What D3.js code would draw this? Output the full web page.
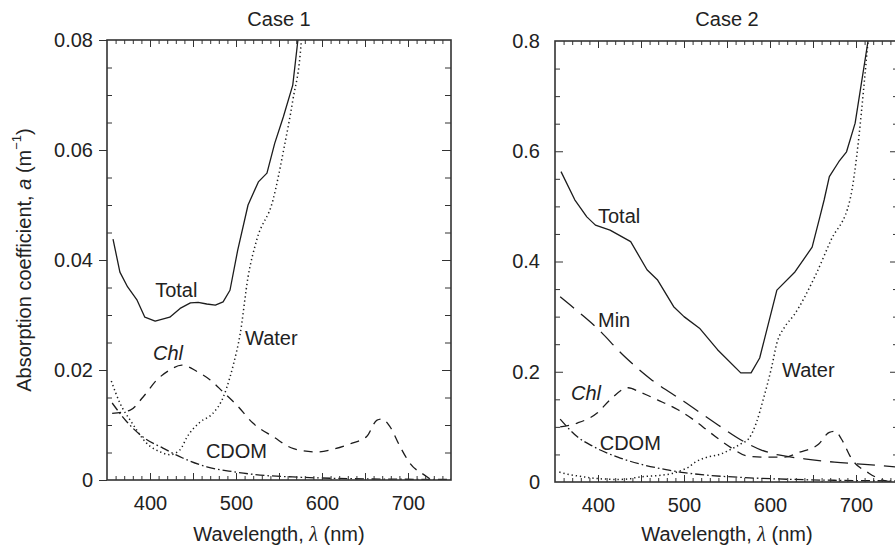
<!DOCTYPE html>
<html>
<head>
<meta charset="utf-8">
<script src="https://cdn.jsdelivr.net/npm/d3@7"></script>
<style>
  html, body { margin: 0; padding: 0; background: #fff; }
  svg text { font-family: "Liberation Sans", Arial, Helvetica, sans-serif; fill: #222; }
</style>
</head>
<body>
<svg id="chart" width="895" height="550"></svg>
<script>
// ---- Absorption spectra (wavelength in nm, absorption in m^-1) ----

// Pure water, shared by both cases
const waterWl  = [355, 365, 379, 396, 412, 423, 435, 443, 458, 473, 485, 493, 497, 505, 514, 524, 543, 556, 566, 576, 584, 592, 602, 608, 617, 628, 652, 671, 693, 714];
const waterAbs = [0.0180, 0.0140, 0.0104, 0.0067, 0.0051, 0.0046, 0.0055, 0.0078, 0.0105, 0.0121, 0.0150, 0.0187, 0.0210, 0.0267, 0.0369, 0.0436, 0.0509, 0.0605, 0.0690, 0.0800, 0.107, 0.149, 0.209, 0.252, 0.281, 0.303, 0.372, 0.439, 0.512, 0.800];

// Case 1 waters
const c1TotalWl = [357, 365, 374, 385, 394, 406, 423, 435, 447, 456, 466, 476, 485, 493, 502, 514, 526, 536, 545, 555, 566, 572];
const c1Total   = [0.0438, 0.0378, 0.0351, 0.0327, 0.0296, 0.0289, 0.0296, 0.0312, 0.0322, 0.0323, 0.0320, 0.0318, 0.0324, 0.0345, 0.0418, 0.0500, 0.0542, 0.0558, 0.0612, 0.0660, 0.0718, 0.0800];
const c1ChlWl   = [356, 377, 392, 408, 423, 437, 455, 470, 485, 501, 520, 543, 567, 594, 613, 635, 652, 664, 670, 679, 691, 702, 722, 727];
const c1Chl     = [0.0121, 0.0127, 0.0151, 0.0182, 0.0200, 0.0209, 0.0197, 0.0182, 0.0160, 0.0136, 0.0103, 0.0079, 0.0057, 0.0051, 0.0056, 0.0067, 0.0079, 0.0109, 0.0111, 0.0097, 0.0060, 0.0031, 0.0006, 0.0];
const c1CdomWl  = [356, 373, 392, 415, 438, 466, 497, 528, 575, 650, 750];
const c1Cdom    = [0.0140, 0.0106, 0.0078, 0.0058, 0.0040, 0.0024, 0.0015, 0.0009, 0.0005, 0.0002, 0.0001];

// Case 2 waters
const c2TotalWl = [357, 373, 387, 397, 414, 438, 457, 469, 488, 500, 518, 539, 566, 578, 588, 608, 629, 649, 658, 663, 669, 680, 689, 699, 714];
const c2Total   = [0.563, 0.512, 0.481, 0.466, 0.457, 0.436, 0.385, 0.367, 0.318, 0.300, 0.279, 0.240, 0.198, 0.198, 0.225, 0.348, 0.381, 0.426, 0.481, 0.512, 0.554, 0.581, 0.599, 0.651, 0.800];
const c2MinWl   = [356, 380, 399, 430, 461, 500, 540, 570, 590, 610, 640, 675, 710, 750];
const c2Min     = [0.336, 0.305, 0.279, 0.229, 0.187, 0.146, 0.103, 0.073, 0.058, 0.049, 0.042, 0.036, 0.032, 0.027];
const c2ChlWl   = [356, 376, 399, 414, 435, 449, 469, 493, 511, 531, 555, 574, 595, 617, 634, 656, 669, 676, 683, 695, 715, 730, 742];
const c2Chl     = [0.100, 0.107, 0.125, 0.149, 0.171, 0.163, 0.149, 0.131, 0.113, 0.089, 0.062, 0.047, 0.045, 0.045, 0.054, 0.068, 0.090, 0.092, 0.078, 0.042, 0.016, 0.004, 0.0];
const c2CdomWl  = [356, 376, 395, 423, 453, 481, 500, 530, 570, 620, 680, 750];
const c2Cdom    = [0.114, 0.082, 0.064, 0.045, 0.031, 0.022, 0.017, 0.012, 0.008, 0.005, 0.003, 0.002];

// Axis ticks
const xLabelTicks = [400, 500, 600, 700];
const c1YLabelTicks = [0, 0.02, 0.04, 0.06, 0.08];
const c2YLabelTicks = [0, 0.2, 0.4, 0.6, 0.8];

// Curve annotations, placed in data units
const c1Notes = [
  { text: "Total", wl: 406, a: 0.0333 },
  { text: "Chl", wl: 403.5, a: 0.0218, italic: true },
  { text: "Water", wl: 510.5, a: 0.0245 },
  { text: "CDOM", wl: 465, a: 0.0040 }
];
const c2Notes = [
  { text: "Total", wl: 400, a: 0.470 },
  { text: "Min", wl: 400, a: 0.281 },
  { text: "Water", wl: 614, a: 0.190 },
  { text: "Chl", wl: 368.6, a: 0.149, italic: true },
  { text: "CDOM", wl: 402, a: 0.058 }
];

const zip = (xs, ys) => xs.map((x, i) => [x, ys[i]]);

// Line styles
const STYLE = {
  total: { dash: null, curve: d3.curveLinear },
  water: { dash: "1.3,2.9", curve: d3.curveMonotoneX },
  chl:   { dash: "9,7", curve: d3.curveMonotoneX },
  min:   { dash: "18,9", curve: d3.curveMonotoneX },
  cdom:  { dash: "9,3,1.6,3", curve: d3.curveMonotoneX }
};

const panels = [
  {
    id: "c1", title: "Case 1", left: 107, right: 451, top: 40, bottom: 480,
    yMax: 0.08, yMinorStep: 0.005, yMajorStep: 0.02, majorOut: true, labelPad: 14,
    yFmt: v => v === 0 ? "0" : d3.format(".2f")(v), yLabelTicks: c1YLabelTicks,
    series: [
      { key: "water", pts: zip(waterWl, waterAbs) },
      { key: "cdom",  pts: zip(c1CdomWl, c1Cdom) },
      { key: "chl",   pts: zip(c1ChlWl, c1Chl) },
      { key: "total", pts: zip(c1TotalWl, c1Total) }
    ],
    notes: c1Notes
  },
  {
    id: "c2", title: "Case 2", left: 555, right: 899, top: 41, bottom: 482,
    yMax: 0.8, yMinorStep: 0.05, yMajorStep: 0.2, majorOut: false, labelPad: 15,
    yFmt: v => v === 0 ? "0" : d3.format(".1f")(v), yLabelTicks: c2YLabelTicks,
    series: [
      { key: "water", pts: zip(waterWl, waterAbs) },
      { key: "cdom",  pts: zip(c2CdomWl, c2Cdom) },
      { key: "chl",   pts: zip(c2ChlWl, c2Chl) },
      { key: "min",   pts: zip(c2MinWl, c2Min) },
      { key: "total", pts: zip(c2TotalWl, c2Total) }
    ],
    notes: c2Notes
  }
];

const svg = d3.select("#chart");
svg.append("rect").attr("width", 895).attr("height", 550).attr("fill", "#fff");
const defs = svg.append("defs");

const FRAME = "#333";
const INK = "#1c1c1c";
const FS = 20;

function tickGroup(parent, axis, tx, ty) {
  const g = parent.append("g")
    .attr("transform", `translate(${tx},${ty})`)
    .call(axis);
  g.select(".domain").remove();
  g.attr("color", FRAME).attr("font-size", FS).attr("font-family", null);
  g.selectAll("line").attr("stroke-width", 1);
  return g;
}

panels.forEach(p => {
  const x = d3.scaleLinear().domain([350, 750]).range([p.left, p.right]);
  const y = d3.scaleLinear().domain([0, p.yMax]).range([p.bottom, p.top]);
  const g = svg.append("g");

  // clip region for the curves
  defs.append("clipPath").attr("id", "clip-" + p.id)
    .append("rect")
    .attr("x", p.left).attr("y", p.top)
    .attr("width", p.right - p.left).attr("height", p.bottom - p.top);

  // curves
  const lines = g.append("g").attr("clip-path", `url(#clip-${p.id})`);
  p.series.forEach(s => {
    const st = STYLE[s.key];
    const gen = d3.line().x(d => x(d[0])).y(d => y(d[1])).curve(st.curve);
    lines.append("path")
      .attr("d", gen(s.pts))
      .attr("fill", "none")
      .attr("stroke", INK)
      .attr("stroke-width", s.key === "water" ? 1.5 : 1.3)
      .attr("stroke-dasharray", st.dash)
      .attr("stroke-linejoin", "round");
  });

  // x ticks (10 nm minor, 50 nm major), inside the frame, top and bottom
  const xMinor = d3.range(360, 750, 10).filter(v => v % 50 !== 0);
  const xMajor = d3.range(400, 750, 50);
  tickGroup(g, d3.axisBottom(x).tickValues(xMinor).tickSize(-4).tickFormat(""), 0, p.bottom);
  tickGroup(g, d3.axisBottom(x).tickValues(xMajor).tickSize(-7).tickFormat(""), 0, p.bottom);
  tickGroup(g, d3.axisTop(x).tickValues(xMinor).tickSize(-4).tickFormat(""), 0, p.top);
  tickGroup(g, d3.axisTop(x).tickValues(xMajor).tickSize(-7).tickFormat(""), 0, p.top);
  tickGroup(g, d3.axisBottom(x).tickValues(xLabelTicks).tickSize(0).tickPadding(16).tickFormat(d3.format("d")), 0, p.bottom);

  // y ticks
  const nMinor = Math.round(p.yMax / p.yMinorStep);
  const ratio = Math.round(p.yMajorStep / p.yMinorStep);
  const yMinor = d3.range(1, nMinor).filter(i => i % ratio !== 0).map(i => i * p.yMinorStep);
  const yMajor = d3.range(1, nMinor).filter(i => i % ratio === 0).map(i => i * p.yMinorStep);
  tickGroup(g, d3.axisLeft(y).tickValues(yMinor).tickSize(-5).tickFormat(""), p.left, 0);
  if (p.majorOut) {
    tickGroup(g, d3.axisLeft(y).tickValues(p.yLabelTicks).tickSize(8).tickFormat(""), p.left, 0);
  } else {
    tickGroup(g, d3.axisLeft(y).tickValues(yMajor).tickSize(-8).tickFormat(""), p.left, 0);
  }
  tickGroup(g, d3.axisRight(y).tickValues(yMinor).tickSize(-6).tickFormat(""), p.right, 0);
  tickGroup(g, d3.axisRight(y).tickValues(yMajor).tickSize(-9).tickFormat(""), p.right, 0);
  tickGroup(g, d3.axisLeft(y).tickValues(p.yLabelTicks).tickSize(0).tickPadding(p.labelPad).tickFormat(p.yFmt), p.left, 0);

  // frame
  g.append("rect")
    .attr("x", p.left).attr("y", p.top)
    .attr("width", p.right - p.left).attr("height", p.bottom - p.top)
    .attr("fill", "none").attr("stroke", FRAME).attr("stroke-width", 1.6);

  // panel title
  const cx = (p.left + p.right) / 2;
  g.append("text").attr("x", cx).attr("y", 26)
    .attr("text-anchor", "middle").attr("font-size", FS).text(p.title);

  // x-axis title
  const xt = g.append("text").attr("x", cx).attr("y", 541)
    .attr("text-anchor", "middle").attr("font-size", FS);
  xt.append("tspan").text("Wavelength, ");
  xt.append("tspan").attr("font-style", "italic")
    .style("font-family", "'Liberation Serif', 'DejaVu Serif', serif").text("λ");
  xt.append("tspan").text(" (nm)");

  // curve annotations
  p.notes.forEach(n => {
    g.append("text")
      .attr("x", x(n.wl)).attr("y", y(n.a))
      .attr("font-size", FS)
      .attr("font-style", n.italic ? "italic" : null)
      .text(n.text);
  });
});

// shared y-axis title
const yt = svg.append("text")
  .attr("transform", "translate(31,260) rotate(-90)")
  .attr("text-anchor", "middle").attr("font-size", FS);
yt.append("tspan").text("Absorption coefficient, ");
yt.append("tspan").attr("font-style", "italic").text("a");
yt.append("tspan").text(" (m");
yt.append("tspan").attr("font-size", 13).attr("dy", "-0.75em").text("−1");
yt.append("tspan").attr("dy", "0.49em").text(")");
</script>
</body>
</html>
